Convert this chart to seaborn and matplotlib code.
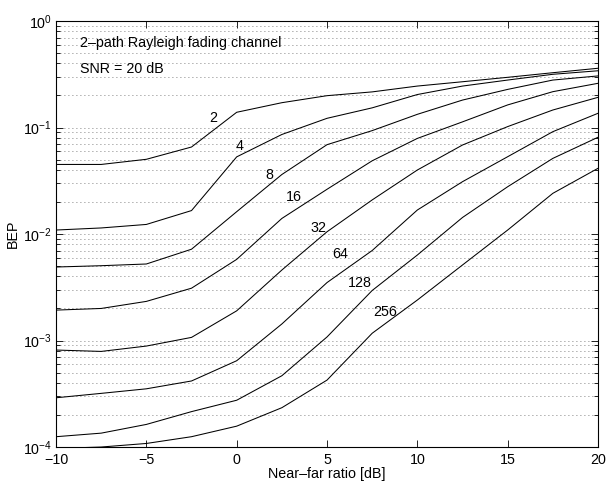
import numpy as np
import pandas as pd
import seaborn as sns
import matplotlib
matplotlib.use("Agg")
import matplotlib.pyplot as plt
from matplotlib.ticker import LogLocator, MultipleLocator

# Near-far ratio grid [dB]
ratio_db = [-10, -7.5, -5, -2.5, 0, 2.5, 5, 7.5, 10, 12.5, 15, 17.5, 20]

# BEP curves, one per number of users
bep_2 = [0.045, 0.045, 0.0503, 0.0656, 0.139, 0.171, 0.199, 0.216, 0.245, 0.269, 0.296, 0.327, 0.36]
bep_4 = [0.0109, 0.0114, 0.0123, 0.0166, 0.053, 0.086, 0.122, 0.153, 0.204, 0.245, 0.279, 0.316, 0.341]
bep_8 = [0.0049, 0.00504, 0.00523, 0.0072, 0.0162, 0.0362, 0.069, 0.0935, 0.133, 0.181, 0.228, 0.279, 0.305]
bep_16 = [0.00193, 0.002, 0.00233, 0.0031, 0.00578, 0.014, 0.0263, 0.0487, 0.079, 0.113, 0.163, 0.217, 0.26]
bep_32 = [0.000814, 0.00079, 0.000887, 0.00107, 0.0019, 0.00459, 0.0105, 0.0209, 0.0399, 0.0685, 0.102, 0.146, 0.192]
bep_64 = [0.00029, 0.000319, 0.000352, 0.000417, 0.000646, 0.00143, 0.0035, 0.007, 0.0168, 0.031, 0.0532, 0.0914, 0.136]
bep_128 = [0.000125, 0.000135, 0.000163, 0.000215, 0.000275, 0.000467, 0.00108, 0.00295, 0.00635, 0.0143, 0.0278, 0.0513, 0.081]
bep_256 = [0.000097, 0.0001, 0.000108, 0.000125, 0.000157, 0.000234, 0.000425, 0.00117, 0.0024, 0.00512, 0.0109, 0.0241, 0.0414]

users = [2, 4, 8, 16, 32, 64, 128, 256]
curves = [bep_2, bep_4, bep_8, bep_16, bep_32, bep_64, bep_128, bep_256]

# where the curve labels sit (data coords)
label_x = [-1.31, 0.18, 1.79, 3.17, 4.5, 5.72, 6.82, 8.21]
label_y = [0.123, 0.067, 0.0358, 0.0222, 0.0114, 0.00649, 0.00347, 0.00185]

df = pd.DataFrame({
    "ratio": ratio_db * len(users),
    "bep": np.concatenate(curves),
    "users": np.repeat(users, len(ratio_db)),
})

sns.set_style("ticks")
plt.rcParams["font.family"] = ["Liberation Sans", "DejaVu Sans"]
plt.rcParams["mathtext.fontset"] = "custom"
plt.rcParams["mathtext.rm"] = "Liberation Sans"
plt.rcParams["mathtext.it"] = "Liberation Sans:italic"
plt.rcParams["text.color"] = "black"
plt.rcParams["axes.labelcolor"] = "black"
plt.rcParams["xtick.color"] = "black"
plt.rcParams["ytick.color"] = "black"

fs = 10.3

fig = plt.figure(figsize=(6.07, 4.84), dpi=100)
ax = fig.add_axes([0.0923, 0.0764, 0.8929, 0.8802])

sns.lineplot(data=df, x="ratio", y="bep", units="users", estimator=None,
             color="black", linewidth=0.75, ax=ax, legend=False)

ax.set_yscale("log")
ax.set_xlim(-10, 20)
ax.set_ylim(1e-4, 1)
ax.xaxis.set_major_locator(MultipleLocator(5))
ax.yaxis.set_major_locator(LogLocator(base=10))
ax.yaxis.set_minor_locator(LogLocator(base=10, subs=np.arange(2, 10)))

ax.yaxis.grid(True, which="both", linestyle=(0, (1, 3.8)), linewidth=0.6, color="0.35")
ax.xaxis.grid(False)

ax.tick_params(which="both", direction="in", top=True, right=True,
               labelsize=fs, width=0.6, color="black", pad=3)
ax.tick_params(axis="x", pad=4.5)
ax.tick_params(which="major", length=5)
ax.tick_params(which="minor", length=3)
for s in ax.spines.values():
    s.set_linewidth(0.8)
    s.set_color("black")

for n, lx, ly in zip(users, label_x, label_y):
    ax.text(lx, ly, str(n), ha="center", va="center", fontsize=fs)

ax.text(-8.67, 0.621, "2\u2013path Rayleigh fading channel", ha="left", va="center", fontsize=fs)
ax.text(-8.67, 0.354, "SNR = 20 dB", ha="left", va="center", fontsize=fs)

ax.set_xlabel("Near\u2013far ratio [dB]", fontsize=fs, labelpad=0)
ax.set_ylabel("BEP", fontsize=fs, labelpad=2)

fig.savefig("out.png", dpi=100)
